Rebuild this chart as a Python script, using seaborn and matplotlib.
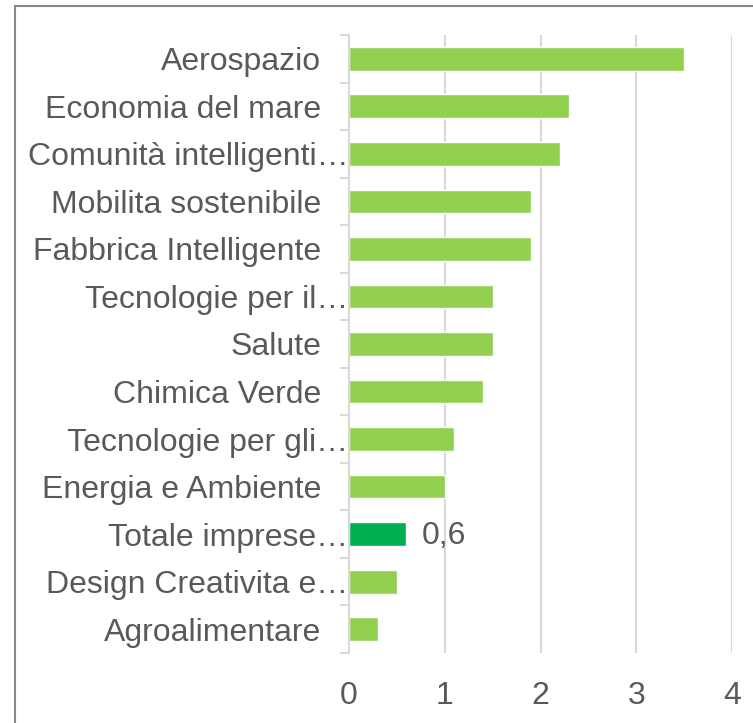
import matplotlib
matplotlib.use("Agg")
import matplotlib.pyplot as plt
from matplotlib.patches import Rectangle
import numpy as np
import pandas as pd
import seaborn as sns

# categories, top to bottom as in the chart
categories = [
    "Aerospazio",
    "Economia del mare",
    "Comunità intelligenti…",
    "Mobilita sostenibile",
    "Fabbrica Intelligente",
    "Tecnologie per il…",
    "Salute",
    "Chimica Verde",
    "Tecnologie per gli…",
    "Energia e Ambiente",
    "Totale imprese…",
    "Design Creativita e…",
    "Agroalimentare",
]
values = [3.5, 2.3, 2.2, 1.9, 1.9, 1.5, 1.5, 1.4, 1.1, 1.0, 0.6, 0.5, 0.3]
highlight = "Totale imprese…"
x_ticks = [0, 1, 2, 3, 4]

light_green = "#92D050"
dark_green = "#00B050"
text_grey = "#595959"
grid_grey = "#D9D9D9"

df = pd.DataFrame({"categoria": categories, "valore": values})
palette = {c: (dark_green if c == highlight else light_green) for c in categories}

sns.set_style("white")
plt.rcParams["font.family"] = ["Liberation Sans", "DejaVu Sans"]
fs = 23

fig = plt.figure(figsize=(7.53, 7.23), dpi=100)
ax = fig.add_axes([349 / 753, 1 - 653 / 723, (732 - 349) / 753, (653 - 35) / 723])

sns.barplot(data=df, y="categoria", x="valore", hue="categoria", palette=palette,
            order=categories, width=0.5, legend=False, ax=ax, saturation=1)

ax.set_xlim(0, 4)
ax.set_ylim(len(categories) - 0.5, -0.5)
ax.set_xticks(x_ticks)
ax.set_xticklabels([str(t) for t in x_ticks])
ax.set_xlabel("")
ax.set_ylabel("")

# vertical grid
for t in x_ticks[1:]:
    ax.axvline(t, color=grid_grey, lw=1.5, zorder=0)
ax.set_axisbelow(True)

for s in ["top", "right", "bottom"]:
    ax.spines[s].set_visible(False)
ax.spines["left"].set_color(grid_grey)
ax.spines["left"].set_linewidth(1.5)

ax.tick_params(axis="x", length=0, pad=20, labelsize=fs, labelcolor=text_grey)
ax.tick_params(axis="y", length=0, labelsize=fs, labelcolor=text_grey)
# category boundary ticks
ax.set_yticks(np.arange(-0.5, len(categories)), minor=True)
ax.tick_params(axis="y", which="minor", left=True, length=6.5, width=1.5, color=grid_grey)

for tick, lab in zip(ax.yaxis.get_major_ticks(), categories):
    tick.set_pad(0.5 if lab.endswith("…") else 20)

# data label on highlighted bar
i = categories.index(highlight)
ax.text(values[i] + 0.16, i + 0.03, "0,6", va="center", ha="left", fontsize=fs, color=text_grey)

# outer frame
fig.patches.append(Rectangle((15 / 753, -0.1), 1.2, 1 - 6 / 723 + 0.1,
                             transform=fig.transFigure, fill=False,
                             edgecolor="#898989", lw=1.5))

fig.savefig("out.png", dpi=100)
